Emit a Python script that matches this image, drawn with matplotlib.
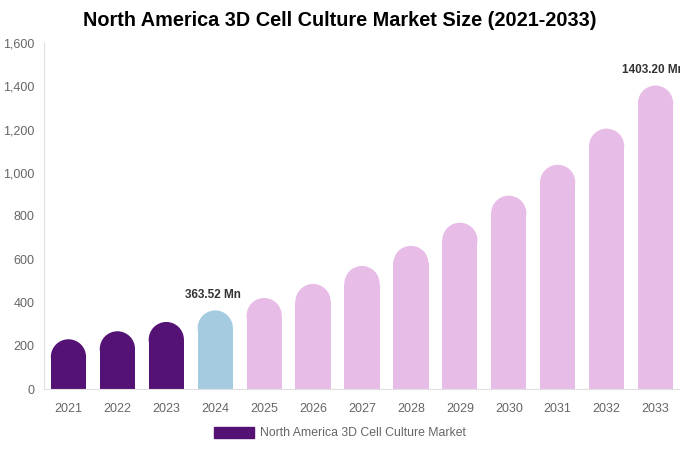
import numpy as np
import matplotlib.pyplot as plt
from matplotlib.patches import Rectangle, Ellipse, Patch
from matplotlib.ticker import FuncFormatter

plt.rcParams['font.family'] = ['Liberation Sans', 'DejaVu Sans']

years = ['2021', '2022', '2023', '2024', '2025', '2026', '2027',
         '2028', '2029', '2030', '2031', '2032', '2033']
values = [230, 267, 310, 363.52, 421, 486, 569, 662, 769, 894, 1037, 1204, 1403.20]
labelled = {3: '363.52 Mn', 12: '1403.20 Mn'}

dark = '#541274'
blue = '#a4cbe0'
pink = '#e7bde8'
colors = [dark] * 3 + [blue] + [pink] * 9

fig = plt.figure(figsize=(6.8, 4.5), dpi=100)
ax = fig.add_axes([44 / 680, 1 - 389 / 450, 636 / 680, 346 / 450])
ax.set_xlim(-0.5, len(years) - 0.5)
ax.set_ylim(0, 1600)

# rounded-top bars: rectangle + ellipse cap
w = 0.72
px_per_x = (636 / len(years))
px_per_y = 346 / 1600
r_y = (w * px_per_x / 2) / px_per_y
for i, (v, c) in enumerate(zip(values, colors)):
    h = max(v - r_y, 0)
    ax.add_patch(Rectangle((i - w / 2, 0), w, h, color=c, lw=0))
    ax.add_patch(Ellipse((i, h), w, 2 * r_y, color=c, lw=0))
    if i in labelled:
        ax.text(i - 0.05, v + 45, labelled[i], ha='center', va='bottom',
                fontsize=8.5, fontweight='bold', color='#333333', clip_on=False)

ax.set_xticks(range(len(years)))
ax.set_xticklabels(years)
ax.set_yticks(np.arange(0, 1601, 200))
ax.yaxis.set_major_formatter(FuncFormatter(lambda v, p: f'{int(v):,}'))
ax.tick_params(axis='both', length=0, labelsize=9, labelcolor='#666666')
ax.tick_params(axis='x', pad=10)
ax.tick_params(axis='y', pad=7)
for s in ['top', 'right']:
    ax.spines[s].set_visible(False)
for s in ['left', 'bottom']:
    ax.spines[s].set_color('#e0e0e0')
    ax.spines[s].set_linewidth(0.8)

fig.suptitle('North America 3D Cell Culture Market Size (2021-2033)',
             x=0.5, y=1 - 21 / 450, va='center', fontsize=14.3, fontweight='bold')

fig.legend(handles=[Patch(color=dark, label='North America 3D Cell Culture Market')],
           loc='center', bbox_to_anchor=(0.5, 1 - 433 / 450), frameon=False,
           fontsize=8.8, labelcolor='#666666', handlelength=3.3, handleheight=1.0,
           handletextpad=0.5)

fig.savefig('out.png', dpi=100)
